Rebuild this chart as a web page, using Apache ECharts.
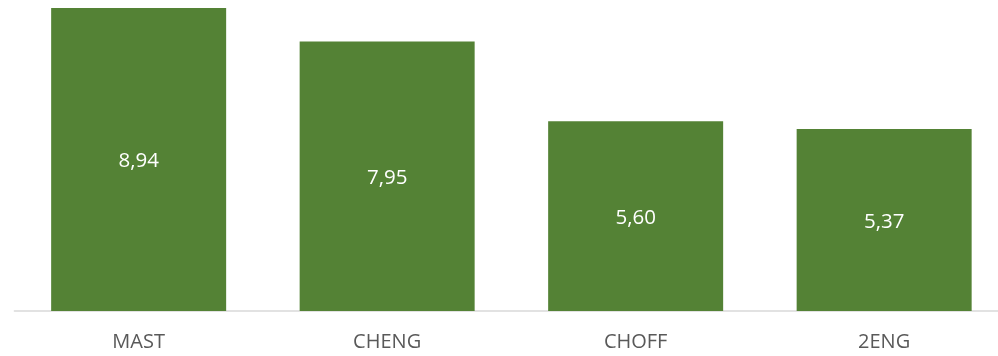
<!DOCTYPE html>
<html>
<head>
<meta charset="utf-8">
<script src="https://cdn.jsdelivr.net/npm/echarts@6/dist/echarts.min.js"></script>
<style>html,body{margin:0;padding:0;background:#fff;overflow:hidden;width:998px;height:356px;}#c{width:1010px;height:356px;}</style>
</head>
<body>
<div id="c"></div>
<script>
const categories = ["MAST", "CHENG", "CHOFF", "2ENG"];
const values = [8.94, 7.95, 5.60, 5.37];

const chart = echarts.init(document.getElementById('c'), null, {renderer: 'canvas'});
chart.setOption({
  animation: false,
  grid: {left: 14.4, right: 1.6, top: 8, bottom: 45, containLabel: false},
  xAxis: {
    type: 'category',
    data: categories,
    axisLine: {show: true, lineStyle: {color: '#d9d9d9', width: 1.5}},
    axisTick: {show: false},
    axisLabel: {color: '#595959', fontSize: 20, fontFamily: 'Open Sans', margin: 21}
  },
  yAxis: {
    type: 'value', min: 0, max: 8.94,
    show: false, splitLine: {show: false}
  },
  series: [{
    type: 'bar',
    data: values,
    barWidth: 175,
    itemStyle: {color: '#548235'},
    label: {
      show: true, position: 'inside', color: '#ffffff', fontSize: 20.5, fontFamily: 'Open Sans',
      offset: [0, 2],
      formatter: p => p.value.toFixed(2).replace('.', ',')
    }
  }]
});
</script>
</body>
</html>
